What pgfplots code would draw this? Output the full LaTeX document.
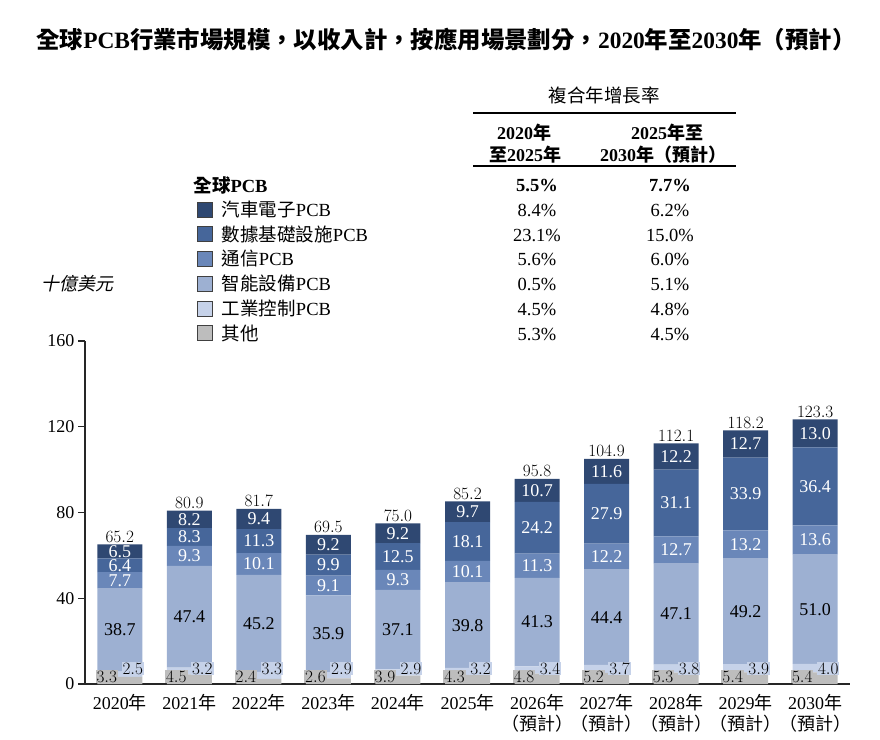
\documentclass[border=0pt]{standalone}
\usepackage{fontspec}
\setmainfont{Liberation Serif}
\newfontfamily\cjk{Noto Sans CJK TC}
\newfontfamily\cjkit{Noto Sans CJK TC}[FakeSlant=0.2]
\usepackage{pgfplots}
\usepackage{pgfplotstable}
\pgfplotsset{compat=1.18}
\newcommand\zh[1]{{\cjk #1}}
\newcommand\fs[2]{\fontsize{#1bp}{#2bp}\selectfont}
\newcommand\lrow[3]{\hspace*{9bp}\rlap{#1}\hspace*{315bp}\makebox[0pt]{#2}\hspace*{133bp}\makebox[0pt]{#3}}

\definecolor{cAuto}{HTML}{2F4872}
\definecolor{cData}{HTML}{46669A}
\definecolor{cComm}{HTML}{6A87B9}
\definecolor{cSmart}{HTML}{9DB0D2}
\definecolor{cInd}{HTML}{C6D2E9}
\definecolor{cOth}{HTML}{BDBDBD}

\pgfplotstableread{
x oth ind smart comm data auto total
0 3.3 2.5 38.7 7.7 6.4 6.5 65.2
1 4.5 3.2 47.4 9.3 8.3 8.2 80.9
2 2.4 3.3 45.2 10.1 11.3 9.4 81.7
3 2.6 2.9 35.9 9.1 9.9 9.2 69.5
4 3.9 2.9 37.1 9.3 12.5 9.2 75.0
5 4.3 3.2 39.8 10.1 18.1 9.7 85.2
6 4.8 3.4 41.3 11.3 24.2 10.7 95.8
7 5.2 3.7 44.4 12.2 27.9 11.6 104.9
8 5.3 3.8 47.1 12.7 31.1 12.2 112.1
9 5.4 3.9 49.2 13.2 33.9 12.7 118.2
10 5.4 4.0 51.0 13.6 36.4 13.0 123.3
}\datatable

\pgfplotsset{
  segstyle/.style n args={2}{
    fill=#1, draw=none,
    nodes near coords={\pgfmathprintnumber[fixed,fixed zerofill,precision=1]{\pgfplotspointmeta}},
    point meta=explicit,
    every node near coord/.append style={anchor=center, text=#2, font={\fs{18}{18}}},
  },
  frame/.style={
    scale only axis, width=765bp, height=343bp,
    at={(85bp,-684bp)}, anchor=south west,
    xmin=-0.5, xmax=10.5, ymin=0, ymax=160,
  }
}

\begin{document}
\begin{tikzpicture}
\path[use as bounding box] (0,0) rectangle (880bp,-740bp);
% title
\node[font={\fs{23.4}{26}\bfseries}] at (446bp,-40bp)
  {\zh{全球}PCB\zh{行業市場規模，以收入計，按應用場景劃分，}2020\zh{年至}2030\zh{年（預計）}};
% CAGR table header
\node[font={\fs{18.5}{20}}] at (604bp,-95bp) {\zh{複合年增長率}};
\draw[line width=1.2bp] (473bp,-113bp) -- (736bp,-113bp);
\draw[line width=1.2bp] (473bp,-166bp) -- (736bp,-166bp);
\node[font={\fs{18}{20}\bfseries}] at (524bp,-133bp) {2020\zh{年}};
\node[font={\fs{18}{20}\bfseries}] at (525bp,-155bp) {\zh{至}2025\zh{年}};
\node[font={\fs{18}{20}\bfseries}] at (667bp,-133bp) {2025\zh{年至}};
\node[font={\fs{18}{20}\bfseries}] at (663bp,-155bp) {2030\zh{年（預計）}};
\node[font={\fs{18.5}{20}\bfseries}, anchor=west] at (190bp,-185bp) {\zh{全球}PCB};
\node[font={\fs{18.5}{20}\bfseries}] at (537bp,-185bp) {5.5\%};
\node[font={\fs{18.5}{20}\bfseries}] at (670bp,-185bp) {7.7\%};
% unit
\node[font={\fs{18}{20}\cjkit}] at (77bp,-284bp) {十億美元};

\begin{axis}[frame,
  ybar stacked, bar width=45bp,
  axis x line*=bottom, axis y line*=left,
  axis line style={line width=1.1bp, black!85},
  ytick={0,40,80,120,160},
  xtick={0,...,10},
  xticklabels={{2020\zh{年}},{2021\zh{年}},{2022\zh{年}},{2023\zh{年}},{2024\zh{年}},{2025\zh{年}},
    {2026\zh{年}\\\zh{（預計）}},{2027\zh{年}\\\zh{（預計）}},{2028\zh{年}\\\zh{（預計）}},
    {2029\zh{年}\\\zh{（預計）}},{2030\zh{年}\\\zh{（預計）}}},
  xtick style={draw=none},
  ytick style={line width=1.1bp, black!85},
  tick align=outside, major tick length=7bp,
  /pgf/number format/assume math mode=true,
  yticklabel style={font={\fs{18}{20}}},
  xticklabel style={font={\fs{18}{20.5}}, align=center},
  clip=false,
  reverse legend=true,
  legend cell align=left,
  legend style={at={(0.1464,1.4091)}, anchor=north west, draw=none, fill=none,
    inner sep=0pt, row sep=7.7bp, column sep=0pt, nodes={inner sep=0pt},
    font={\fs{18.5}{20}}},
  legend image code/.code={\draw[#1,draw=black!75,line width=0.8bp] (0bp,-7.5bp) rectangle (15bp,7.5bp);},
]
\addplot[fill=cOth, draw=none] table[x=x,y=oth]{\datatable};
\addlegendentry{\lrow{\zh{其他}}{5.3\%}{4.5\%}}
\addplot[fill=cInd, draw=none] table[x=x,y=ind]{\datatable};
\addlegendentry{\lrow{\zh{工業控制}PCB}{4.5\%}{4.8\%}}
\addplot[segstyle={cSmart}{black}] table[x=x,y=smart,meta=smart]{\datatable};
\addlegendentry{\lrow{\zh{智能設備}PCB}{0.5\%}{5.1\%}}
\addplot[segstyle={cComm}{white}] table[x=x,y=comm,meta=comm]{\datatable};
\addlegendentry{\lrow{\zh{通信}PCB}{5.6\%}{6.0\%}}
\addplot[segstyle={cData}{white}] table[x=x,y=data,meta=data]{\datatable};
\addlegendentry{\lrow{\zh{數據基礎設施}PCB}{23.1\%}{15.0\%}}
\addplot[segstyle={cAuto}{white}] table[x=x,y=auto,meta=auto]{\datatable};
\addlegendentry{\lrow{\zh{汽車電子}PCB}{8.4\%}{6.2\%}}
\end{axis}

\begin{axis}[frame, hide axis, clip=false]
% totals
\addplot[draw=none, mark=none, point meta=explicit,
  nodes near coords={\pgfmathprintnumber[fixed,fixed zerofill,precision=1]{\pgfplotspointmeta}},
  every node near coord/.append style={anchor=south, font={\fs{18}{18}}, inner sep=2bp}]
  table[x=x,y=total,meta=total]{\datatable};
% other labels
\addplot[draw=none, mark=none, point meta=explicit,
  nodes near coords={\pgfmathprintnumber[fixed,fixed zerofill,precision=1]{\pgfplotspointmeta}},
  every node near coord/.append style={anchor=center, font={\fs{18}{18}}, fill=cOth, inner sep=1bp, xshift=-13bp}]
  table[x=x,y expr=3.3,meta=oth]{\datatable};
% industrial labels
\addplot[draw=none, mark=none, point meta=explicit,
  nodes near coords={\pgfmathprintnumber[fixed,fixed zerofill,precision=1]{\pgfplotspointmeta}},
  every node near coord/.append style={anchor=center, font={\fs{18}{18}}, fill=cInd, inner sep=1bp, xshift=13bp}]
  table[x=x,y expr=7.2,meta=ind]{\datatable};
\end{axis}
\end{tikzpicture}
\end{document}
